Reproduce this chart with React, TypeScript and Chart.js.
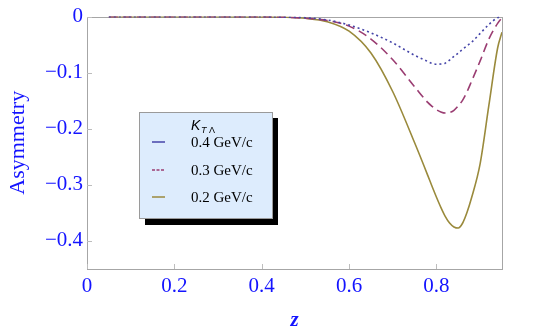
import React, { useEffect, useRef } from 'react';
import { Chart, registerables } from 'chart.js';

Chart.register(...registerables);

// ---- data ----
const zValues = [0.05, 0.1, 0.2, 0.3, 0.4, 0.45, 0.5, 0.55, 0.6, 0.65, 0.7, 0.75, 0.78, 0.79, 0.8, 0.81, 0.82, 0.83, 0.84, 0.85, 0.86, 0.87, 0.88, 0.9, 0.92, 0.94, 0.95];
const asym04 = [0, 0, 0, 0, -0.0003, -0.001, -0.002, -0.006, -0.015, -0.029, -0.047, -0.069, -0.08, -0.0835, -0.085, -0.0845, -0.083, -0.0775, -0.071, -0.065, -0.058, -0.052, -0.046, -0.03, -0.014, -0.002, 0];
const asym03 = [0, 0, 0, 0, -0.0003, -0.001, -0.003, -0.007, -0.017, -0.04, -0.077, -0.125, -0.153, -0.16, -0.166, -0.17, -0.172, -0.171, -0.167, -0.159, -0.149, -0.134, -0.116, -0.079, -0.04, -0.012, -0.002];
const asym02 = [0, 0, 0, 0, -0.0005, -0.001, -0.003, -0.009, -0.026, -0.065, -0.134, -0.225, -0.283, -0.303, -0.322, -0.34, -0.356, -0.368, -0.375, -0.377, -0.368, -0.349, -0.324, -0.262, -0.158, -0.056, -0.028];
const seriesLabels = ['0.4 GeV/c', '0.3 GeV/c', '0.2 GeV/c'];
const xTicks = [0, 0.2, 0.4, 0.6, 0.8];
const xTickLabels = ['0', '0.2', '0.4', '0.6', '0.8'];
const yTicks = [0, -0.1, -0.2, -0.3, -0.4];
const yTickLabels = ['0', '\u22120.1', '\u22120.2', '\u22120.3', '\u22120.4'];

const BLUE_TEXT = '#1414ff';
const SERIF = '"Liberation Serif", "Times New Roman", serif';

const framePlugin = {
  id: 'frameTicks',
  beforeDatasetsDraw(chart: any) {
    const { ctx, chartArea } = chart;
    const { left, right, top, bottom } = chartArea;
    ctx.save();
    ctx.strokeStyle = '#a6a6a6';
    ctx.lineWidth = 1;
    ctx.strokeRect(Math.round(left) + 0.5, Math.round(top) + 0.5, Math.round(right - left), Math.round(bottom - top));
    ctx.strokeStyle = '#bdbdbd';
    const xs = chart.scales.x;
    const ys = chart.scales.y;
    ctx.beginPath();
    xTicks.forEach((v) => {
      const px = Math.round(xs.getPixelForValue(v)) + 0.5;
      ctx.moveTo(px, bottom);
      ctx.lineTo(px, bottom - 5);
    });
    yTicks.forEach((v) => {
      const py = Math.round(ys.getPixelForValue(v)) + 0.5;
      ctx.moveTo(left, py);
      ctx.lineTo(left + 5, py);
    });
    ctx.stroke();
    ctx.restore();
  },
};

const legendPlugin = {
  id: 'boxLegend',
  afterDraw(chart: any) {
    const ctx = chart.ctx;
    const bx = 139, by = 112, bw = 133, bh = 106;
    ctx.save();
    ctx.fillStyle = '#000';
    ctx.fillRect(bx + 6, by + 6, bw, bh + 1);
    ctx.fillStyle = '#ddecfd';
    ctx.fillRect(bx, by, bw, bh);
    ctx.strokeStyle = '#9a9a9a';
    ctx.lineWidth = 1;
    ctx.strokeRect(bx + 0.5, by + 0.5, bw, bh);

    ctx.fillStyle = '#000';
    ctx.textBaseline = 'alphabetic';
    ctx.textAlign = 'left';
    ctx.font = 'italic 14px "Liberation Sans", Arial, sans-serif';
    ctx.fillText('K', 191, 130);
    ctx.font = 'italic 9px "Liberation Sans", Arial, sans-serif';
    ctx.fillText('T', 201, 133);
    ctx.font = '9px "Liberation Sans", Arial, sans-serif';
    ctx.fillText('\u039B', 209, 133);

    const rowsY = [142, 170, 197];
    const sampleDash = [[], [3, 1.5], []];
    chart.data.datasets.forEach((ds: any, i: number) => {
      const y = rowsY[i];
      ctx.strokeStyle = ds.borderColor;
      ctx.lineWidth = 1.5;
      ctx.setLineDash(sampleDash[i]);
      ctx.beginPath();
      ctx.moveTo(152, y);
      ctx.lineTo(165, y);
      ctx.stroke();
      ctx.setLineDash([]);
      ctx.fillStyle = '#000';
      ctx.font = '15px ' + SERIF;
      ctx.textBaseline = 'middle';
      ctx.fillText(ds.label, 191, y + 1);
    });
    ctx.restore();
  },
};

export default function App() {
  const ref = useRef<HTMLCanvasElement | null>(null);

  useEffect(() => {
    if (!ref.current) return;
    const mk = (arr: number[]) => zValues.map((z, i) => ({ x: z, y: arr[i] }));
    const chart = new Chart(ref.current, {
      type: 'line',
      data: {
        datasets: [
          {
            label: seriesLabels[0],
            data: mk(asym04),
            borderColor: '#4545a8',
            borderWidth: 1.6,
            borderDash: [2, 3],
            pointRadius: 0,
            cubicInterpolationMode: 'monotone',
            fill: false,
          },
          {
            label: seriesLabels[1],
            data: mk(asym03),
            borderColor: '#9a3d72',
            borderWidth: 1.6,
            borderDash: [9, 5],
            pointRadius: 0,
            cubicInterpolationMode: 'monotone',
            fill: false,
          },
          {
            label: seriesLabels[2],
            data: mk(asym02),
            borderColor: '#9a8a3c',
            borderWidth: 1.6,
            pointRadius: 0,
            cubicInterpolationMode: 'monotone',
            fill: false,
          },
        ],
      },
      options: {
        responsive: false,
        animation: false,
        layout: { padding: { top: 13, right: 38, left: 0, bottom: 0 } },
        plugins: {
          legend: { display: false },
          tooltip: { enabled: false },
        },
        scales: {
          x: {
            type: 'linear',
            min: 0,
            max: 0.95,
            afterBuildTicks: (s: any) => {
              s.ticks = xTicks.map((v) => ({ value: v }));
            },
            afterFit: (s: any) => {
              s.height = 67;
            },
            ticks: {
              autoSkip: false,
              maxRotation: 0,
              padding: 5,
              color: BLUE_TEXT,
              font: { family: SERIF, size: 21 },
              callback: (_v: any, i: number) => xTickLabels[i],
            },
            grid: { display: false, drawTicks: false },
            border: { display: false },
            title: {
              display: true,
              text: 'z',
              color: BLUE_TEXT,
              font: { family: SERIF, size: 21, style: 'italic', weight: 'bold' },
              padding: { top: 0, bottom: 3 },
            },
          },
          y: {
            type: 'linear',
            min: -0.45,
            max: 0,
            afterBuildTicks: (s: any) => {
              s.ticks = yTicks.map((v) => ({ value: v }));
            },
            afterFit: (s: any) => {
              s.width = 87;
            },
            ticks: {
              autoSkip: false,
              padding: 4,
              color: BLUE_TEXT,
              font: { family: SERIF, size: 21 },
              callback: (_v: any, i: number) => yTickLabels[i],
            },
            grid: { display: false, drawTicks: false },
            border: { display: false },
            title: {
              display: true,
              text: 'Asymmetry',
              color: BLUE_TEXT,
              font: { family: SERIF, size: 22 },
              padding: { top: 5, bottom: 0 },
            },
          },
        },
      },
      plugins: [framePlugin, legendPlugin],
    } as any);
    return () => chart.destroy();
  }, []);

  return (
    <div style={{ position: 'absolute', left: 0, top: 0, width: 540, height: 336, background: '#fff' }}>
      <canvas ref={ref} width={540} height={336} style={{ display: 'block', width: 540, height: 336 }} />
    </div>
  );
}
